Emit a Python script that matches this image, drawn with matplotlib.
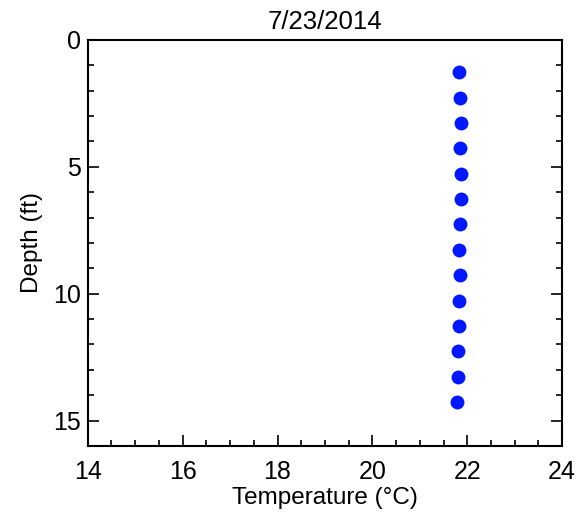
import numpy as np
import matplotlib
matplotlib.use("Agg")
import matplotlib.pyplot as plt
from matplotlib.ticker import MultipleLocator

# ============================================================
# DATA
# ============================================================
TITLE = "7/23/2014"
depth_ft = [1.27, 2.27, 3.27, 4.27, 5.27, 6.27, 7.27,
            8.27, 9.27, 10.27, 11.27, 12.27, 13.27, 14.27]
temp_c = [21.83, 21.85, 21.87, 21.85, 21.86, 21.86, 21.85,
          21.83, 21.85, 21.83, 21.82, 21.80, 21.80, 21.79]

plt.rcParams["font.family"] = ["Liberation Sans", "DejaVu Sans"]

fig = plt.figure(figsize=(5.85, 5.12), dpi=100)
ax = fig.add_axes([0.150, 0.129, 0.811, 0.793])

ax.plot(temp_c, depth_ft, "o", color="#0018ff", markersize=10, markeredgewidth=0)

ax.set_xlim(14, 24)
ax.set_ylim(16, 0)
ax.xaxis.set_major_locator(MultipleLocator(2))
ax.xaxis.set_minor_locator(MultipleLocator(0.5))
ax.yaxis.set_major_locator(MultipleLocator(5))
ax.yaxis.set_minor_locator(MultipleLocator(1))

ax.tick_params(which="both", direction="in", top=False, right=True,
               labelsize=18, width=1.2)
ax.tick_params(axis="x", which="major", pad=10)
ax.tick_params(axis="y", which="major", pad=5)
ax.tick_params(which="major", length=8)
ax.tick_params(which="minor", length=4)
for s in ax.spines.values():
    s.set_linewidth(1.5)

ax.set_xlabel("Temperature (\u00b0C)", fontsize=17.5, labelpad=2)
ax.set_ylabel("Depth (ft)", fontsize=17.5, labelpad=7)
ax.set_title(TITLE, fontsize=18.5, pad=8)

fig.savefig("out.png", dpi=100)
